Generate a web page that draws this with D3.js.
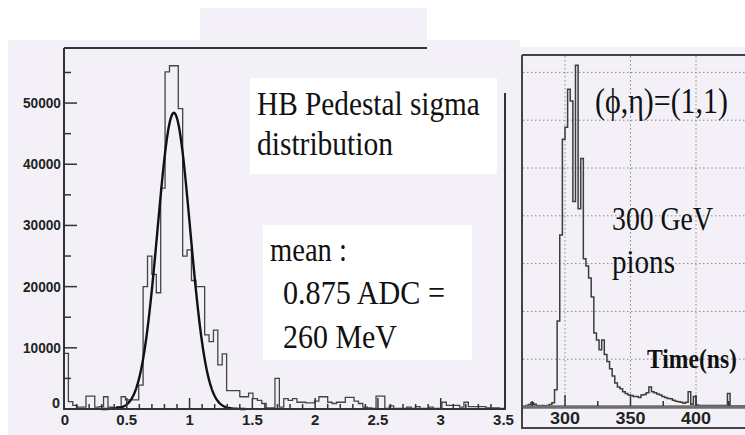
<!DOCTYPE html>
<html>
<head>
<meta charset="utf-8">
<script src="https://cdn.jsdelivr.net/npm/d3@7"></script>
<style>
  html, body { margin: 0; padding: 0; background: #fff; }
  svg { display: block; }
</style>
</head>
<body>
<div id="chart"></div>
<script>
// pedestal sigma histogram, 100 bins of 0.035 ADC from 0 to 3.5
var sigmaBinWidth = 0.035;
var sigmaCounts = [
    9100, 1200, 600, 300, 300, 2100, 2100, 300, 400, 2000,
    300, 200, 400, 2000, 1500, 1500, 1500, 3900, 20000, 25000,
    22000, 19000, 36100, 55100, 56100, 56100, 49100, 25000, 26000, 21000,
    20000, 20000, 12100, 11000, 12900, 7200, 9000, 3000, 3000, 3000,
    2000, 2000, 2600, 1700, 1400, 900, 200, 200, 5000, 300,
    1700, 1400, 1700, 1100, 1100, 1000, 1000, 1300, 2000, 2000,
    1100, 900, 1100, 1100, 1900, 1900, 1300, 900, 300, 200,
    100, 2100, 2100, 100, 500, 100, 100, 100, 300, 100,
    400, 100, 100, 300, 100, 100, 1100, 600, 600, 600,
    300, 1100, 400, 400, 400, 400, 200, 200, 200, 100
];
// gaussian fit shown over the histogram
var fitMean = 0.875, fitSigma = 0.13, fitAmp = 48400;

var sigmaXTicks = [0, 0.5, 1, 1.5, 2, 2.5, 3, 3.5];
var sigmaYTicks = [0, 10000, 20000, 30000, 40000, 50000];

// pulse timing histogram, 2 ns bins from 270 ns
var timeStart = 270, timeBinWidth = 2;
var timeCounts = [
    0.03, 0.05, 0.09, 0.06, 0.03, 0.02, 0.03, 0.02, 0.03, 0.05,
    0.09, 0.36, 1.8, 3.6, 5.6, 5.85, 6.65, 6.4, 4.3, 7.15,
    4.15, 5.2, 3.1, 2.95, 2.7, 2.3, 1.55, 1.4, 1.2, 1.4,
    1.1, 0.95, 0.8, 0.65, 0.5, 0.42, 0.38, 0.32, 0.28, 0.25,
    0.24, 0.22, 0.22, 0.2, 0.25, 0.26, 0.3, 0.42, 0.32, 0.3,
    0.27, 0.25, 0.22, 0.2, 0.18, 0.17, 0.14, 0.12, 0.11, 0.1,
    0.08, 0.1, 0.32, 0.06, 0.22, 0.04,
    0.03, 0.03, 0.03, 0.03, 0.03, 0.03, 0.03, 0.03, 0.03, 0.03, 0.03,
    0.28,
    0.02, 0.02, 0.02, 0.02, 0.02, 0.02, 0.02
];
var timeXTicks = [300, 350, 400];
var timeGridY = [1, 2, 3, 4, 5, 6, 7];

var W = 745, H = 435;
var LAV = '#f3f1f7';
var SERIF = '"Liberation Serif", "Times New Roman", serif';
var SANS = '"Liberation Sans", Arial, Helvetica, sans-serif';

var svg = d3.select('#chart').append('svg').attr('width', W).attr('height', H);

svg.append('rect').attr('width', W).attr('height', H).attr('fill', '#fff');
svg.append('rect').attr('x', 8).attr('y', 40).attr('width', 512).attr('height', 395).attr('fill', LAV);
svg.append('rect').attr('x', 200).attr('y', 8).attr('width', 227).attr('height', 40).attr('fill', LAV);
svg.append('rect').attr('x', 515).attr('y', 47).attr('width', 230).attr('height', 388).attr('fill', LAV);

function stepPoints(counts, start, width) {
    var pts = [[start, 0]];
    counts.forEach(function (c, i) { pts.push([start + i * width, c]); });
    pts.push([start + counts.length * width, 0]);
    return pts;
}

// squeeze/stretch a text horizontally so it spans the given width
function fitText(g, txt, x, y, size, width, opts) {
    opts = opts || {};
    var t = g.append('text')
        .attr('font-family', opts.family || SERIF)
        .attr('font-size', size)
        .attr('font-weight', opts.bold ? 'bold' : 'normal')
        .attr('fill', opts.fill || '#111')
        .text(txt);
    var w = t.node().getComputedTextLength() || width;
    var sx = width / w;
    var x0 = x;
    if (opts.anchor === 'middle') x0 = x - width / 2;
    if (opts.anchor === 'end') x0 = x - width;
    t.attr('transform', 'translate(' + x0 + ',' + y + ') scale(' + sx + ',1)');
    return t;
}

// ---------- left panel: pedestal sigma ----------
var xL = d3.scaleLinear().domain([0, 3.5]).range([64, 503.5]);
var yL = d3.scaleLinear().domain([0, 59000]).range([409, 48]);
var left = svg.append('g');

var histLine = d3.line()
    .x(function (d) { return xL(d[0]); })
    .y(function (d) { return yL(d[1]); })
    .curve(d3.curveStepAfter);

left.append('path')
    .attr('d', histLine(stepPoints(sigmaCounts, 0, sigmaBinWidth)))
    .attr('fill', 'none').attr('stroke', '#444').attr('stroke-width', 1.3);

var fitPts = d3.range(0.3, 1.45, 0.005).map(function (x) {
    return [x, fitAmp * Math.exp(-0.5 * Math.pow((x - fitMean) / fitSigma, 2))];
});
left.append('path')
    .attr('d', d3.line().x(function (d) { return xL(d[0]); }).y(function (d) { return yL(d[1]); })(fitPts))
    .attr('fill', 'none').attr('stroke', '#111').attr('stroke-width', 2.4);

// frame
var frame = '#333';
left.append('line').attr('x1', 64).attr('x2', 427).attr('y1', 48).attr('y2', 48).attr('stroke', frame).attr('stroke-width', 2);
left.append('line').attr('x1', 64).attr('x2', 64).attr('y1', 48).attr('y2', 410).attr('stroke', frame).attr('stroke-width', 2);
left.append('line').attr('x1', 63).attr('x2', 505).attr('y1', 409).attr('y2', 409).attr('stroke', frame).attr('stroke-width', 2);
left.append('line').attr('x1', 505).attr('x2', 505).attr('y1', 93).attr('y2', 410).attr('stroke', frame).attr('stroke-width', 2);

// y ticks (inward)
left.selectAll('.ymaj').data(sigmaYTicks.slice(1)).enter().append('line')
    .attr('x1', 64).attr('x2', 77).attr('y1', yL).attr('y2', yL)
    .attr('stroke', frame).attr('stroke-width', 1.5);
left.selectAll('.ymin').data(d3.range(5000, 59000, 10000)).enter().append('line')
    .attr('x1', 64).attr('x2', 71).attr('y1', yL).attr('y2', yL)
    .attr('stroke', frame).attr('stroke-width', 1.5);
sigmaYTicks.forEach(function (d) {
    if (d === 0) {
        fitText(left, '0', 60, yL(d) - 1, 14.5, 8, { family: SANS, bold: true, anchor: 'end', fill: '#222' });
    } else {
        fitText(left, String(d), 61, yL(d) + 5, 14.5, 38, { family: SANS, bold: true, anchor: 'end', fill: '#222' });
    }
});

// x ticks (inward)
left.selectAll('.xmin').data(d3.range(1, 35)).enter().append('line')
    .attr('x1', function (d) { return xL(d / 10); }).attr('x2', function (d) { return xL(d / 10); })
    .attr('y1', 409).attr('y2', function (d) { return d % 5 === 0 ? 398 : 404; })
    .attr('stroke', frame).attr('stroke-width', 1.5);
left.selectAll('.xlab').data(sigmaXTicks).enter().append('text')
    .attr('x', function (d) { return xL(d) + (d === 0 ? 1 : 0); })
    .attr('y', 424.5)
    .attr('text-anchor', 'middle')
    .attr('font-family', SANS).attr('font-weight', 'bold').attr('font-size', 15)
    .attr('fill', '#222')
    .text(function (d) { return d; });

// annotation boxes
svg.append('rect').attr('x', 250).attr('y', 78).attr('width', 247).attr('height', 96).attr('fill', '#fff');
fitText(svg, 'HB Pedestal sigma', 257, 115, 34, 223);
fitText(svg, 'distribution', 257, 155, 34, 136);

svg.append('rect').attr('x', 263).attr('y', 225).attr('width', 209).attr('height', 135).attr('fill', '#fff');
fitText(svg, 'mean :', 270, 261, 33, 77);
fitText(svg, '0.875 ADC =', 283, 304, 33, 162);
fitText(svg, '260 MeV', 283, 348, 33, 114);

// ---------- right panel: timing ----------
var xR = d3.scaleLinear().domain([300, 400]).range([565, 696]);
var yR = d3.scaleLinear().domain([0, 7]).range([407, 72.4]);
var right = svg.append('g');

right.selectAll('.vgrid').data(timeXTicks).enter().append('line')
    .attr('x1', xR).attr('x2', xR).attr('y1', 56).attr('y2', 405)
    .attr('stroke', '#8a8a8a').attr('stroke-width', 1).attr('stroke-dasharray', '1.5,2.5');
right.selectAll('.hgrid').data(timeGridY).enter().append('line')
    .attr('x1', 523).attr('x2', W).attr('y1', yR).attr('y2', yR)
    .attr('stroke', '#8a8a8a').attr('stroke-width', 1).attr('stroke-dasharray', '1.5,2.5');

right.append('path')
    .attr('d', d3.line()
        .x(function (d) { return xR(d[0]); })
        .y(function (d) { return yR(d[1]); })
        .curve(d3.curveStepAfter)(stepPoints(timeCounts, timeStart, timeBinWidth)))
    .attr('fill', 'none').attr('stroke', '#3d3d3d').attr('stroke-width', 1.5);

right.append('line').attr('x1', 522).attr('x2', W).attr('y1', 407).attr('y2', 407)
    .attr('stroke', '#6e6e6e').attr('stroke-width', 3.5);
right.selectAll('.tt').data(d3.range(275, 450, 25)).enter().append('line')
    .attr('x1', xR).attr('x2', xR).attr('y1', 406)
    .attr('y2', function (d) { return d % 50 === 0 ? 395 : 401; })
    .attr('stroke', '#333').attr('stroke-width', 1.5);
timeXTicks.forEach(function (d) {
    fitText(right, String(d), xR(d), 424, 16.5, 30, { family: SANS, bold: true, anchor: 'middle', fill: '#222' });
});

right.append('line').attr('x1', 522).attr('x2', W).attr('y1', 55).attr('y2', 55).attr('stroke', '#444').attr('stroke-width', 2);
right.append('line').attr('x1', 522).attr('x2', 522).attr('y1', 55).attr('y2', 429).attr('stroke', '#444').attr('stroke-width', 2);
right.append('line').attr('x1', 522).attr('x2', W).attr('y1', 428).attr('y2', 428).attr('stroke', '#444').attr('stroke-width', 2);

fitText(right, '(\u03D5,\u03B7)=(1,1)', 595, 113, 35, 133);
fitText(right, '300 GeV', 612, 230, 33, 101);
fitText(right, 'pions', 612, 273, 33, 63);
fitText(right, 'Time(ns)', 647, 368, 27, 90, { bold: true });
</script>
</body>
</html>
